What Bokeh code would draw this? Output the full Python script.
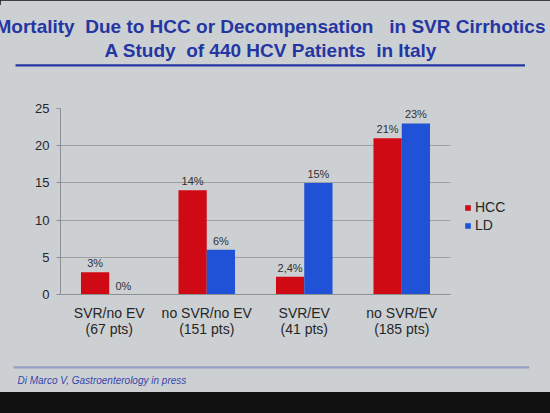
from bokeh.plotting import figure
from bokeh.models import ColumnDataSource, FactorRange, Legend, LegendItem, FixedTicker, Title
from bokeh.transform import dodge
from bokeh.core.properties import value
from bokeh.embed import file_html
from bokeh.resources import INLINE

# ---- data ----
categories = ["SVR/no EV\n(67 pts)", "no SVR/no EV\n(151 pts)", "SVR/EV\n(41 pts)", "no SVR/EV\n(185 pts)"]
hcc = [3, 14, 2.4, 21]
ld = [0, 6, 15, 23]
hcc_labels = ["3%", "14%", "2,4%", "21%"]
ld_labels = ["0%", "6%", "15%", "23%"]
y_ticks = [0, 5, 10, 15, 20, 25]
series_names = ["HCC", "LD"]
title_line1 = "Mortality\u00a0 Due to HCC or Decompensation\u00a0\u00a0 in SVR Cirrhotics"
title_line2 = "A Study\u00a0 of 440 HCV Patients\u00a0 in Italy"
citation = "Di Marco V, Gastroenterology in press"

# ---- styles ----
BG = "#cdd0d3"
RED = "#d00a14"
BLUE = "#1f52d6"
TITLE_BLUE = "#2436a2"
FONT = "Liberation Sans"
NBSP = "\u00a0"

p = figure(x_range=FactorRange(factors=categories), y_range=(0, 25),
           frame_width=390, frame_height=186, output_backend="svg", toolbar_location=None,
           min_border_left=60, min_border_right=84, min_border_top=108, min_border_bottom=98,
           background_fill_color=BG, border_fill_color=BG, outline_line_color=None)

src = ColumnDataSource(dict(cat=categories, hcc=hcc, ld=ld, hl=hcc_labels, ll=ld_labels))
bw = 0.29
r1 = p.vbar(x=dodge('cat', -bw / 2, range=p.x_range), top='hcc', width=bw, source=src,
            fill_color=RED, line_color=None)
r2 = p.vbar(x=dodge('cat', bw / 2, range=p.x_range), top='ld', width=bw, source=src,
            fill_color=BLUE, line_color=None)

for off, col, lab in [(-bw / 2, 'hcc', 'hl'), (bw / 2, 'ld', 'll')]:
    p.text(x=dodge('cat', off, range=p.x_range), y=col, text=lab, source=src,
           text_align='center', text_baseline='bottom', y_offset=-3,
           text_font_size='11px', text_font=value(FONT), text_color="#303030")

# axes
p.yaxis.ticker = FixedTicker(ticks=y_ticks)
p.yaxis.axis_line_color = "#8c9094"
p.yaxis.major_tick_line_color = "#8c9094"
p.yaxis.major_tick_out = 4
p.yaxis.major_tick_in = 0
p.yaxis.minor_tick_line_color = None
p.yaxis.major_label_text_font = FONT
p.yaxis.major_label_text_font_size = "13px"
p.yaxis.major_label_text_color = "#262626"
p.yaxis.major_label_standoff = 7

p.xaxis.axis_line_color = "#8c9094"
p.xaxis.major_tick_line_color = None
p.xaxis.major_tick_out = 0
p.xaxis.major_tick_in = 0
p.xaxis.major_label_text_font = FONT
p.xaxis.major_label_text_font_size = "14px"
p.xaxis.major_label_text_color = "#262626"
p.xaxis.major_label_standoff = 10
p.xaxis.major_label_text_line_height = 1.05

p.xgrid.visible = False
p.ygrid.grid_line_color = "#9da1a5"

# legend (right side panel); blank title pushes the items down
legend = Legend(items=[LegendItem(label=series_names[0], renderers=[r1]),
                       LegendItem(label=series_names[1], renderers=[r2])],
                location="left", glyph_width=7, glyph_height=7,
                title=" ", title_text_font_size="14px", title_standoff=14,
                label_text_font=FONT, label_text_font_size="14px", label_text_color="#262626",
                label_standoff=4, padding=0, margin=14, spacing=0, label_height=18,
                border_line_color=None, background_fill_alpha=0)
p.add_layout(legend, "right")

# title block (above panel; first added sits nearest the frame)
p.title.visible = False
p.add_layout(Title(text=NBSP, text_font_size="2px", text_color=BG, standoff=38), "above")   # spacer
p.add_layout(Title(text=NBSP * 917, text_font_size="2px", background_fill_color=TITLE_BLUE,
                   align="left", offset=-45, standoff=0), "above")                            # rule
p.add_layout(Title(text=title_line2, text_font=FONT, text_font_size="19px", text_font_style="bold",
                   text_color=TITLE_BLUE, align="left", offset=44, standoff=2.4), "above")
p.add_layout(Title(text=title_line1, text_font=FONT, text_font_size="19px", text_font_style="bold",
                   text_color=TITLE_BLUE, align="left", offset=-65, standoff=1.2), "above")

# footer (below panel; first added sits nearest the axis)
p.add_layout(Title(text=NBSP, text_font_size="2px", text_color=BG, standoff=19.3), "below")  # spacer
p.add_layout(Title(text=NBSP * 928, text_font_size="2px", background_fill_color="#93a0c6",
                   align="left", offset=-47, standoff=0), "below")                            # rule
p.add_layout(Title(text=citation, text_font=FONT, text_font_size="10px", text_font_style="italic",
                   text_color="#3546a8", align="left", offset=-43, standoff=8), "below")

html = file_html(p, INLINE)
css = ("<style>html{background:linear-gradient(to bottom,#111 0px,#111 5px,"
       + BG + " 5px," + BG + " 392px,#111 392px,#111 100%);min-height:100%;}"
       "body{background:transparent;}</style>")
html = html.replace("</head>", css + "</head>", 1)
open("out.html", "w").write(html)
